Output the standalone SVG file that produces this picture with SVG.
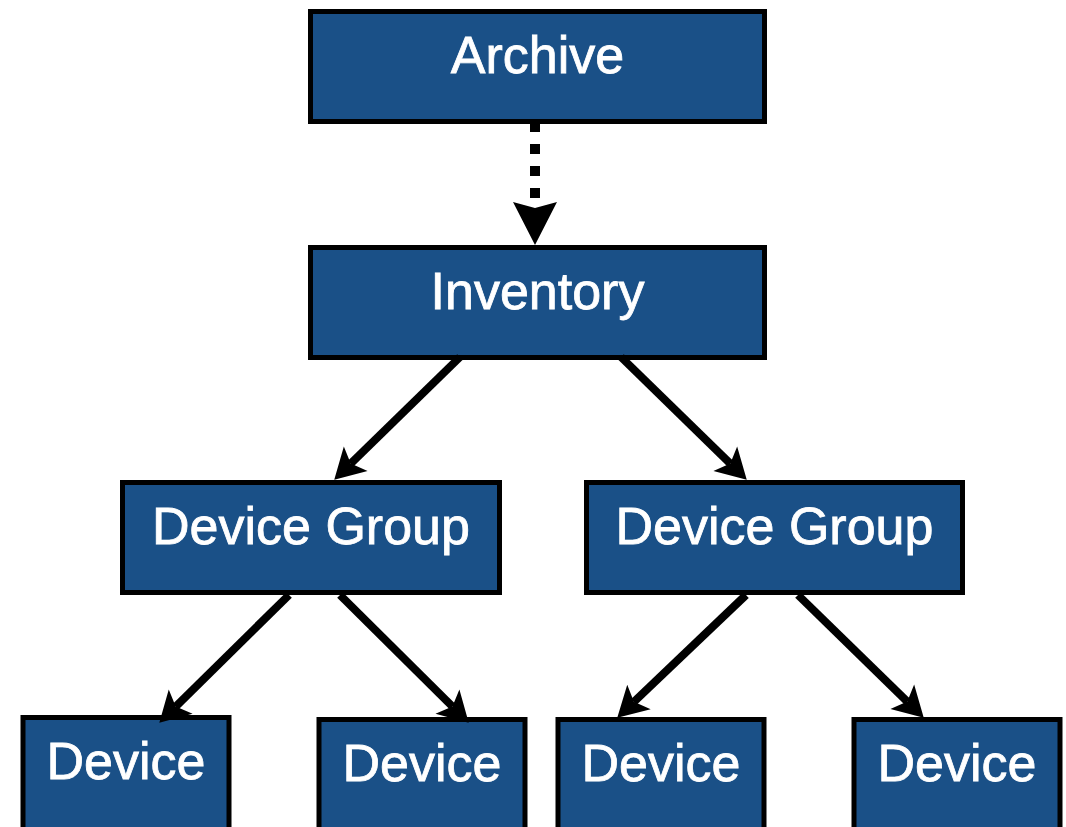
<svg xmlns="http://www.w3.org/2000/svg" width="1066" height="827" viewBox="0 0 1066 827">
  <style>
    .box { fill: #1A5087; stroke: #000; stroke-width: 5; }
    .lbl { fill: #fff; stroke: #fff; stroke-width: 0.8; font-family: "Liberation Sans", Arial, Helvetica, sans-serif; font-size: 52px; text-anchor: middle; }
    .edge { stroke: #000; stroke-width: 8; fill: none; }
    .dashed { stroke: #000; stroke-width: 10; fill: none; stroke-dasharray: 10 12; }
  </style>
  <defs>
    <marker id="arr" markerUnits="userSpaceOnUse" viewBox="-10 -20 40 40" markerWidth="40" markerHeight="40" refX="0" refY="0" orient="auto">
      <path d="M23,0 L-7,-17 L0,0 L-7,17 Z" fill="#000"/>
    </marker>
    <marker id="arrBig" markerUnits="userSpaceOnUse" viewBox="-10 -25 50 50" markerWidth="50" markerHeight="50" refX="0" refY="0" orient="auto">
      <path d="M37,0 L-6,-22 L0,0 L-6,22 Z" fill="#000"/>
    </marker>
  </defs>

  <g id="archive">
    <rect class="box" x="310.5" y="11.5" width="454" height="110"/>
    <text class="lbl" x="537.5" y="73">Archive</text>
  </g>
  <g id="inventory">
    <rect class="box" x="310.5" y="247.5" width="454" height="110"/>
    <text class="lbl" x="537.5" y="309">Inventory</text>
  </g>
  <g id="group-left">
    <rect class="box" x="122.5" y="482.5" width="377" height="110"/>
    <text class="lbl" x="311" y="544">Device Group</text>
  </g>
  <g id="group-right">
    <rect class="box" x="586.5" y="482.5" width="376" height="110"/>
    <text class="lbl" x="774.5" y="544">Device Group</text>
  </g>
  <g id="device-1">
    <rect class="box" x="23" y="717.5" width="206" height="120"/>
    <text class="lbl" x="126" y="779">Device</text>
  </g>
  <g id="device-2">
    <rect class="box" x="319" y="719.5" width="206" height="120"/>
    <text class="lbl" x="422" y="781">Device</text>
  </g>
  <g id="device-3">
    <rect class="box" x="558" y="719.5" width="206" height="120"/>
    <text class="lbl" x="661" y="781">Device</text>
  </g>
  <g id="device-4">
    <rect class="box" x="854" y="719.5" width="206" height="120"/>
    <text class="lbl" x="957" y="781">Device</text>
  </g>

  <g id="connectors">
    <line class="dashed" x1="535" y1="122" x2="535" y2="208" marker-end="url(#arrBig)"/>
    <line class="edge" x1="460" y1="357" x2="350.7" y2="463.6" marker-end="url(#arr)"/>
    <line class="edge" x1="621" y1="357" x2="730.3" y2="463.6" marker-end="url(#arr)"/>
    <line class="edge" x1="289" y1="595" x2="175.7" y2="706.6" marker-end="url(#arr)"/>
    <line class="edge" x1="340" y1="595" x2="452.4" y2="706.5" marker-end="url(#arr)"/>
    <line class="edge" x1="746" y1="595" x2="633.9" y2="701.8" marker-end="url(#arr)"/>
    <line class="edge" x1="798" y1="595" x2="907.3" y2="701.6" marker-end="url(#arr)"/>
  </g>
</svg>
